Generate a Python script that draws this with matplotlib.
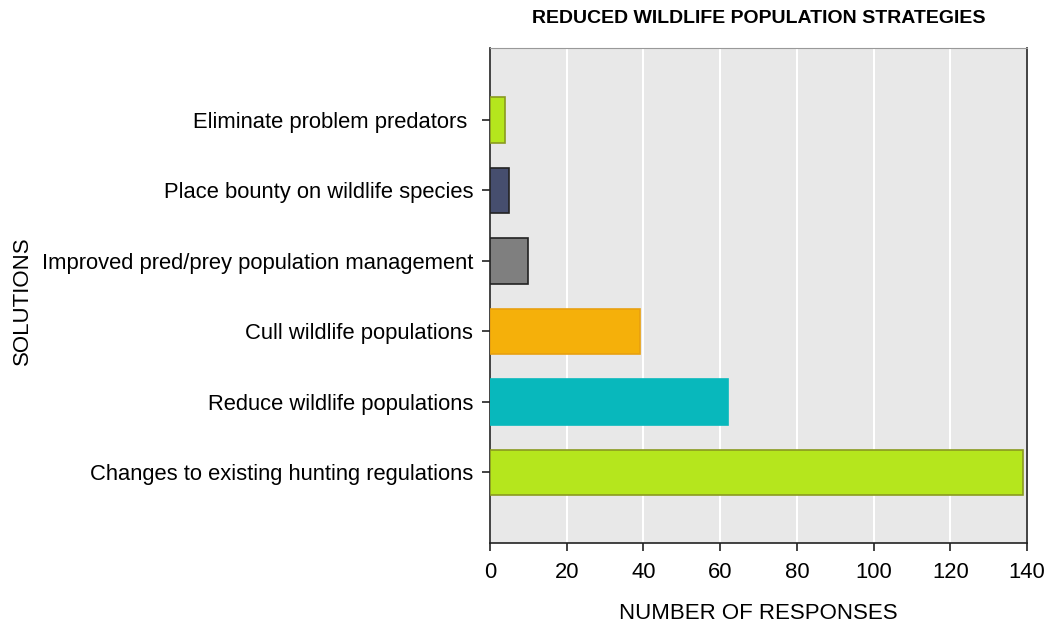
import matplotlib.pyplot as plt

plt.rcParams['font.family'] = ['Liberation Sans', 'DejaVu Sans']

categories = ['Changes to existing hunting regulations',
              'Reduce wildlife populations',
              'Cull wildlife populations',
              'Improved pred/prey population management',
              'Place bounty on wildlife species',
              'Eliminate problem predators ']
responses = [139, 62, 39, 10, 5, 4]
colors = ['#B5E61D', '#08B8BC', '#F5B00A', '#7F7F7F', '#464E6E', '#B5E61D']
edges = ['#8A9A20', '#08B8BC', '#E8A010', '#222222', '#222222', '#8A9A20']

fig = plt.figure(figsize=(10.47, 6.26), dpi=100)
ax = fig.add_axes([0.468, 0.1326, 0.513, 0.7907])
ax.set_facecolor('#E8E8E8')

y = range(len(categories))
ax.barh(y, responses, height=0.65, color=colors, edgecolor=edges, linewidth=1.2, zorder=3)

ax.set_xlim(0, 140)
ax.set_ylim(-1.0, 6.02)
ax.set_xticks(range(0, 141, 20))
ax.set_yticks(list(y))
ax.set_yticklabels(categories)
ax.tick_params(labelsize=15.8, length=6, width=1.2, color='#222222', pad=6)
ax.tick_params(axis='x', pad=8)
ax.grid(axis='x', color='white', linewidth=1.5, zorder=1)

for s in ['left', 'bottom', 'right']:
    ax.spines[s].set_color('#222222')
    ax.spines[s].set_linewidth(1.2)
ax.spines['top'].set_color('#999999')

ax.set_title('REDUCED WILDLIFE POPULATION STRATEGIES', fontsize=14, fontweight='bold', pad=18)
ax.set_xlabel('NUMBER OF RESPONSES', fontsize=16, labelpad=14)
fig.text(0.021, 0.52, 'SOLUTIONS', rotation=90, fontsize=16, ha='center', va='center')

fig.savefig('out.png', dpi=100)
